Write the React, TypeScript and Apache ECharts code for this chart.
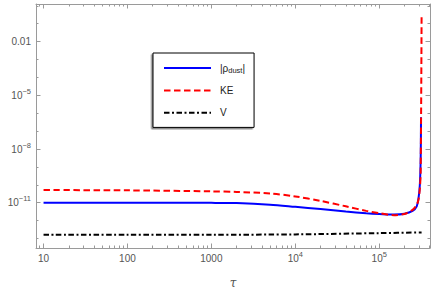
import React, { useEffect, useRef } from "react";
import * as echarts from "echarts";

// tick values
const xMajorTicks = [10, 100, 1000, 10000, 100000];
const xMinorTicks = [
  9, 20, 30, 40, 50, 60, 70, 80, 90,
  200, 300, 400, 500, 600, 700, 800, 900,
  2000, 3000, 4000, 5000, 6000, 7000, 8000, 9000,
  20000, 30000, 40000, 50000, 60000, 70000, 80000, 90000,
  200000, 300000, 400000,
];
const yMajorTicks = [1e-11, 1e-8, 1e-5, 0.01];
const yMinorTicks = [1e-13, 1e-12, 1e-10, 1e-9, 1e-7, 1e-6, 1e-4, 1e-3, 0.1, 1];

// series: |rho_dust|
const tauRho = [10, 100, 1000, 2000, 5000, 1e4, 2e4, 4e4, 7e4, 1e5, 1.5e5, 2e5, 2.5e5, 2.8e5, 2.95e5, 3.05e5, 3.12e5, 3.15e5];
const rhoDust = [1.0e-11, 1.0e-11, 9.8e-12, 9.5e-12, 7.8e-12, 5.9e-12, 4.4e-12, 3.2e-12, 2.6e-12, 2.35e-12, 2.16e-12, 2.4e-12, 3.5e-12, 6.3e-12, 2.0e-11, 1.0e-10, 3.2e-9, 6.0e-7];

// series: KE
const tauKE = [10, 100, 1000, 2000, 5000, 1e4, 2e4, 4e4, 7e4, 1e5, 1.5e5, 2e5, 2.5e5, 2.8e5, 2.95e5, 3.05e5, 3.12e5, 3.2e5];
const kinetic = [5.1e-11, 4.9e-11, 4.3e-11, 4.0e-11, 3.3e-11, 2.24e-11, 1.26e-11, 6.3e-12, 3.5e-12, 2.6e-12, 2.0e-12, 2.35e-12, 4.0e-12, 7.6e-12, 1.6e-11, 6.3e-11, 5.0e-10, 0.28];

// series: V
const tauV = [10, 100, 1000, 1e4, 1e5, 3.2e5];
const potential = [1.6e-13, 1.6e-13, 1.62e-13, 1.7e-13, 2.0e-13, 2.2e-13];

const seriesNames = ["|ρdust|", "KE", "V"];

const FRAME = "#9a9a9a";
const LABEL = "#555555";
const FONT = "Liberation Sans, Arial, sans-serif";

const labelRich = {
  b: { fontSize: 10, lineHeight: 14, color: LABEL, fontFamily: FONT },
  e: { fontSize: 7.5, lineHeight: 6, padding: [0, 0, 8, 0], color: LABEL, fontFamily: FONT },
};

function powLabel(v: number): string {
  const p = Math.round(Math.log10(v));
  if (p >= 1 && p <= 3) return `{b|${Math.round(v)}}`;
  if (p === -2) return "{b|0.01}";
  const s = p < 0 ? "\u2212" + String(-p) : String(p);
  return `{b|10}{e|${s}}`;
}

const pairs = (xs: number[], ys: number[]) => xs.map((x, i) => [x, ys[i]]);

export default function App() {
  const ref = useRef<HTMLDivElement>(null);
  useEffect(() => {
    if (!ref.current) return;
    const chart = echarts.init(ref.current, undefined, { renderer: "svg" });
    const xMin = 8.13;
    const xMax = 4.03e5;
    const yMin = 2.95e-14;
    const yMax = 1.26;
    const baseX = {
      type: "log" as const,
      logBase: 10,
      min: xMin,
      max: xMax,
      splitLine: { show: false },
      minorTick: { show: false },
    };
    const baseY = {
      type: "log" as const,
      logBase: 10,
      min: yMin,
      max: yMax,
      splitLine: { show: false },
      minorTick: { show: false },
    };
    const option: any = {
      animation: false,
      backgroundColor: "#ffffff",
      grid: { left: 36, right: 6, top: 4, bottom: 46 },
      xAxis: [
        {
          ...baseX,
          position: "bottom",
          axisLine: { show: true, lineStyle: { color: FRAME, width: 1 } },
          axisTick: { show: true, inside: true, length: 4.5, customValues: xMajorTicks, lineStyle: { color: FRAME } },
          axisLabel: { show: true, customValues: xMajorTicks, formatter: powLabel, margin: 3, rich: labelRich, color: LABEL },
          name: "τ",
          nameLocation: "middle",
          nameGap: 29,
          nameTextStyle: { fontFamily: "DejaVu Serif, serif", fontStyle: "italic", fontSize: 12, color: LABEL },
        },
        {
          ...baseX,
          position: "bottom",
          axisLine: { show: false },
          axisTick: { show: true, inside: true, length: 2.5, customValues: xMinorTicks, lineStyle: { color: FRAME } },
          axisLabel: { show: false },
        },
        {
          ...baseX,
          position: "top",
          axisLine: { show: true, lineStyle: { color: FRAME, width: 1 } },
          axisTick: { show: true, inside: true, length: 4.5, customValues: xMajorTicks, lineStyle: { color: FRAME } },
          axisLabel: { show: false },
        },
        {
          ...baseX,
          position: "top",
          axisLine: { show: false },
          axisTick: { show: true, inside: true, length: 2.5, customValues: xMinorTicks, lineStyle: { color: FRAME } },
          axisLabel: { show: false },
        },
      ],
      yAxis: [
        {
          ...baseY,
          position: "left",
          axisLine: { show: true, lineStyle: { color: FRAME, width: 1 } },
          axisTick: { show: true, inside: true, length: 4.5, customValues: yMajorTicks, lineStyle: { color: FRAME } },
          axisLabel: { show: true, customValues: yMajorTicks, formatter: powLabel, margin: 5, rich: labelRich, color: LABEL },
        },
        {
          ...baseY,
          position: "left",
          axisLine: { show: false },
          axisTick: { show: true, inside: true, length: 2.5, customValues: yMinorTicks, lineStyle: { color: FRAME } },
          axisLabel: { show: false },
        },
        {
          ...baseY,
          position: "right",
          axisLine: { show: true, lineStyle: { color: FRAME, width: 1 } },
          axisTick: { show: true, inside: true, length: 4.5, customValues: yMajorTicks, lineStyle: { color: FRAME } },
          axisLabel: { show: false },
        },
        {
          ...baseY,
          position: "right",
          axisLine: { show: false },
          axisTick: { show: true, inside: true, length: 2.5, customValues: yMinorTicks, lineStyle: { color: FRAME } },
          axisLabel: { show: false },
        },
      ],
      legend: {
        show: true,
        orient: "vertical",
        left: 153,
        top: 53,
        padding: [9, 9, 9, 10],
        itemWidth: 47,
        itemHeight: 14,
        itemGap: 11,
        backgroundColor: "#ffffff",
        borderColor: "#000000",
        borderWidth: 1,
        borderRadius: 0,
        shadowColor: "rgba(0,0,0,0.45)",
        shadowBlur: 1,
        shadowOffsetX: -1.5,
        shadowOffsetY: 1.5,
        itemStyle: { opacity: 0 },
        data: seriesNames,
        formatter: (name: string) => (name === seriesNames[0] ? "{t||ρ}{s|dust}{t||}" : `{t|${name}}`),
        textStyle: {
          padding: [0, 0, 0, 4],
          color: "#222222",
          fontFamily: FONT,
          fontSize: 10,
          rich: {
            t: { fontSize: 10, lineHeight: 12, color: "#222222", fontFamily: FONT },
            s: { fontSize: 7.5, lineHeight: 8, padding: [4, 0, 0, 0], color: "#222222", fontFamily: FONT },
          },
        },
      },
      series: [
        {
          name: seriesNames[0],
          type: "line",
          xAxisIndex: 0,
          yAxisIndex: 0,
          symbol: "none",
          smooth: 0.3,
          data: pairs(tauRho, rhoDust),
          lineStyle: { color: "#0000ff", width: 2 },
          itemStyle: { color: "#0000ff" },
          z: 2,
        },
        {
          name: seriesNames[1],
          type: "line",
          xAxisIndex: 0,
          yAxisIndex: 0,
          symbol: "none",
          smooth: 0.3,
          data: pairs(tauKE, kinetic),
          lineStyle: { color: "#ff0000", width: 2, type: [6.5, 3.5] },
          itemStyle: { color: "#ff0000" },
          z: 3,
        },
        {
          name: seriesNames[2],
          type: "line",
          xAxisIndex: 0,
          yAxisIndex: 0,
          symbol: "none",
          smooth: 0.3,
          data: pairs(tauV, potential),
          lineStyle: { color: "#000000", width: 2, type: [5.5, 2.5, 2, 2.5] },
          itemStyle: { color: "#000000" },
          z: 2,
        },
      ],
    };
    chart.setOption(option);
    return () => chart.dispose();
  }, []);
  return (
    <div
      ref={ref}
      style={{ position: "fixed", left: 0, top: 0, width: 436, height: 294, background: "#fff" }}
    />
  );
}
